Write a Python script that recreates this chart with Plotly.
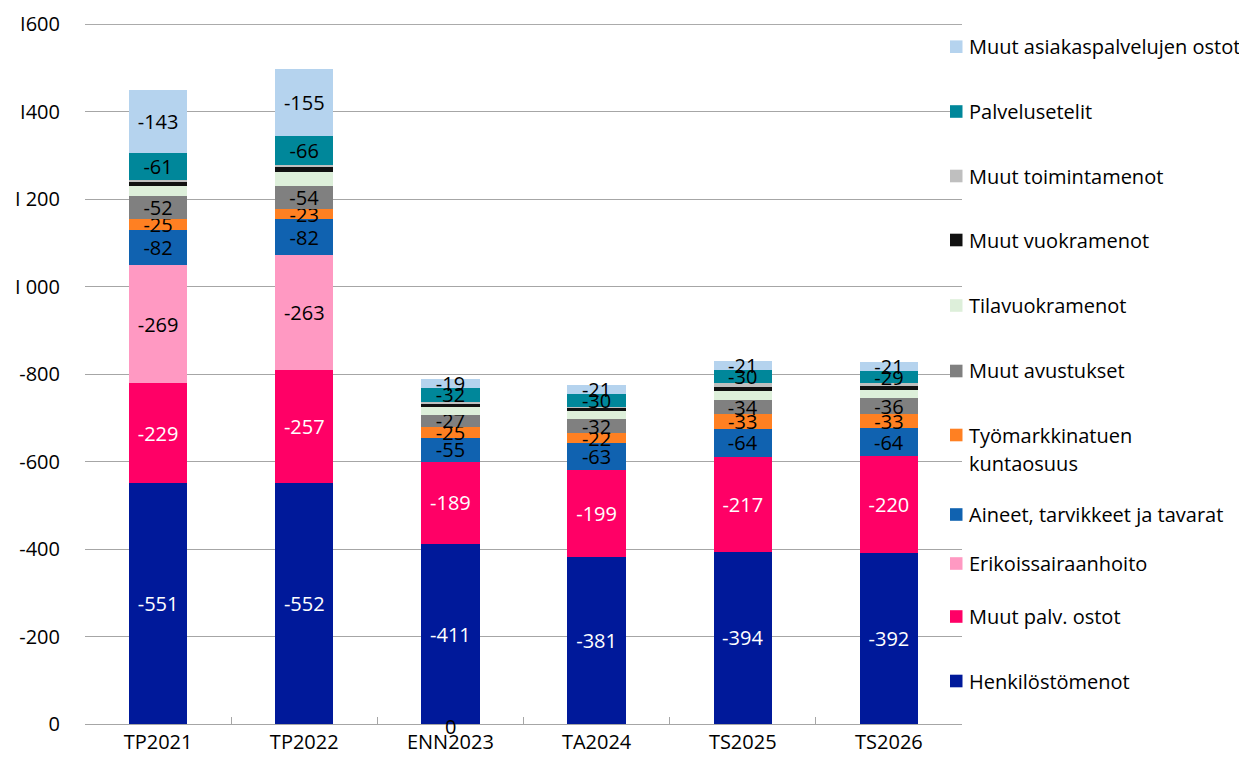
import plotly.graph_objects as go

# Categories and expense items (values in k€, drawn as positive heights, labelled negative)
years = ["TP2021", "TP2022", "ENN2023", "TA2024", "TS2025", "TS2026"]

henkilostomenot = [551, 552, 411, 381, 394, 392]
muut_palv_ostot = [229, 257, 189, 199, 217, 220]
erikoissairaanhoito = [269, 263, 0, 0, 0, 0]
aineet_tarvikkeet = [82, 82, 55, 63, 64, 64]
tyomarkkinatuki = [25, 23, 25, 22, 33, 33]
muut_avustukset = [52, 54, 27, 32, 34, 36]
tilavuokramenot = [23, 31, 19, 19, 20, 20]
muut_vuokramenot = [10, 11, 7, 7, 9, 10]
muut_toimintamenot = [4, 5, 4, 2, 8, 4]
palvelusetelit = [61, 66, 32, 30, 30, 29]
asiakaspalvelut_ostot = [143, 155, 19, 21, 21, 21]

y_tick_values = [0, 200, 400, 600, 800, 1000, 1200, 1400, 1600]
y_tick_labels = ["0", "-200", "-400", "-600", "-800", "I 000", "I 200", "I400", "I600"]

FONT = "Open Sans"
FONT_SIZE = 20
GRID = "#A6A6A6"

# name, values, colour, label colour, show value labels
series = [
    ("Henkilöstömenot", henkilostomenot, "#00199A", "white", True),
    ("Muut palv. ostot", muut_palv_ostot, "#FF0066", "white", True),
    ("Erikoissairaanhoito", erikoissairaanhoito, "#FF99C2", "black", True),
    ("Aineet, tarvikkeet ja tavarat", aineet_tarvikkeet, "#1062B0", "black", True),
    ("Työmarkkinatuen<br>kuntaosuus", tyomarkkinatuki, "#FF8022", "black", True),
    ("Muut avustukset", muut_avustukset, "#808080", "black", True),
    ("Tilavuokramenot", tilavuokramenot, "#DDEFDA", "black", False),
    ("Muut vuokramenot", muut_vuokramenot, "#111111", "black", False),
    ("Muut toimintamenot", muut_toimintamenot, "#BFBFBF", "black", False),
    ("Palvelusetelit", palvelusetelit, "#00879A", "black", True),
    ("Muut asiakaspalvelujen ostot", asiakaspalvelut_ostot, "#B5D3EE", "black", True),
]

fig = go.Figure()

for name, values, color, label_color, show_labels in series:
    labels = [f"-{v}" if (show_labels and v != 0) else "" for v in values]
    fig.add_trace(go.Bar(
        x=years,
        y=values,
        name=name,
        marker=dict(color=color, line=dict(width=0)),
        text=labels,
        textposition="inside",
        insidetextanchor="middle",
        textangle=0,
        constraintext="none",
        textfont=dict(family=FONT, size=FONT_SIZE, color=label_color),
        showlegend=False,
        hoverinfo="skip",
    ))

# The page body adds an 8px margin, so lay out in screen pixels minus 8
OFF = 8
W, H = 1247 - 2 * OFF, 763 - 2 * OFF
L, R, T, B = 85 - OFF, 962 - OFF, 24 - OFF, 724 - OFF


def px_to_paper_x(px):
    return (px - OFF - L) / (R - L)


def px_to_paper_y(py):
    return (B - (py - OFF)) / (B - T)


# Top gridline (plotly drops the one sitting on the plot edge)
fig.add_shape(
    type="line", xref="paper", yref="y", x0=0, x1=1,
    y0=y_tick_values[-1], y1=y_tick_values[-1],
    line=dict(color=GRID, width=1), layer="below",
)

# Hand-placed legend, top to bottom (centre y of each entry, screen pixels)
legend_rows = [46.7, 111.5, 176, 240, 305.5, 371, 435, 514.5, 563.5, 616.5, 681]
for (name, values, color, label_color, show_labels), row in zip(reversed(series), legend_rows):
    fig.add_shape(
        type="rect", xref="paper", yref="paper",
        x0=px_to_paper_x(950), x1=px_to_paper_x(962.5),
        y0=px_to_paper_y(row + 6.3), y1=px_to_paper_y(row - 6.3),
        fillcolor=color, line=dict(width=0),
    )
    for i, line in enumerate(name.split("<br>")):
        fig.add_annotation(
            x=px_to_paper_x(967), y=px_to_paper_y(row + i * 28),
            xref="paper", yref="paper", xanchor="left", yanchor="middle",
            text=line, showarrow=False,
            font=dict(family=FONT, size=FONT_SIZE, color="black"),
        )

# Stray zero label at the base of ENN2023
fig.add_annotation(
    x="ENN2023", y=0, yanchor="middle", yshift=-2, text="0", showarrow=False,
    font=dict(family=FONT, size=FONT_SIZE, color="black"),
)

fig.update_layout(
    width=W, height=H,
    barmode="stack",
    bargap=0.6,
    margin=dict(l=L, r=W - R, t=T, b=H - B, autoexpand=False),
    plot_bgcolor="white",
    paper_bgcolor="white",
    font=dict(family=FONT, size=FONT_SIZE, color="black"),
    showlegend=False,
)

fig.update_xaxes(
    automargin=False,
    showline=True, linecolor=GRID, linewidth=1,
    ticks="inside", tickson="boundaries", ticklen=7, tickcolor=GRID,
    showgrid=False,
    tickfont=dict(family=FONT, size=FONT_SIZE, color="black"),
)

fig.update_yaxes(
    automargin=False,
    range=[0, 1601],
    tickvals=y_tick_values, ticktext=y_tick_labels,
    showgrid=True, gridcolor=GRID, gridwidth=1,
    zeroline=False, showline=False, ticks="",
    ticklabelstandoff=24,
    tickfont=dict(family=FONT, size=FONT_SIZE, color="black"),
)

fig.write_html("out.html")
